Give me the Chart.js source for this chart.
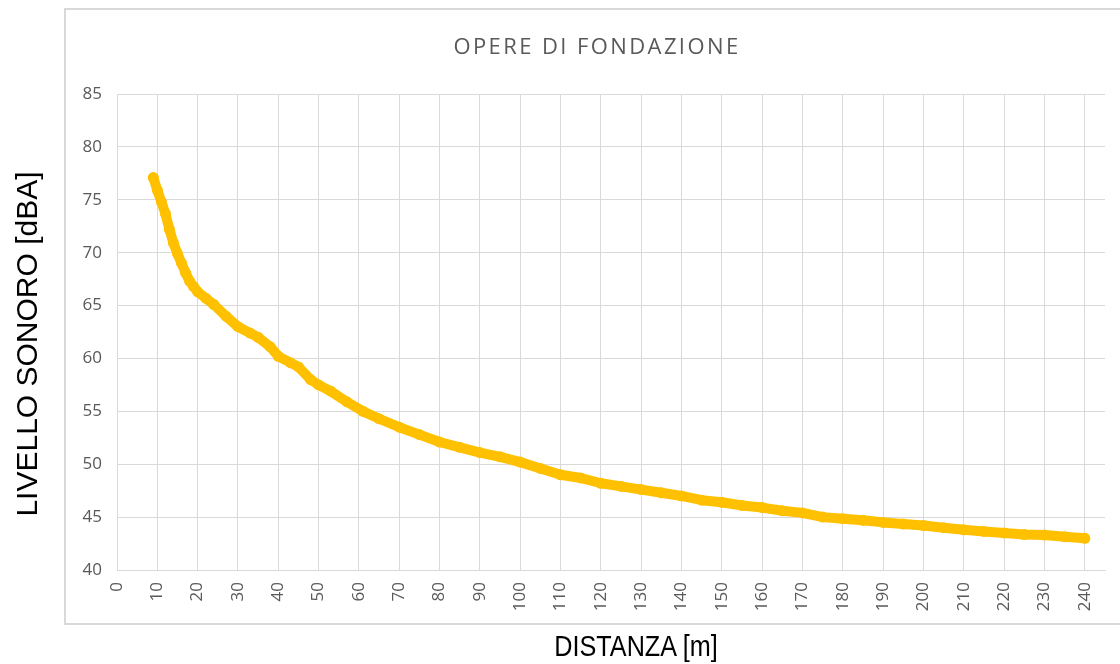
<!DOCTYPE html>
<html>
<head>
<meta charset="utf-8">
<script src="https://cdn.jsdelivr.net/npm/chart.js@4.4.1/dist/chart.umd.min.js"></script>
<style>
  html, body { margin: 0; padding: 0; background: #ffffff; width: 1120px; height: 664px; overflow: hidden; }
  #box { position: absolute; left: 64px; top: 8px; width: 1070px; height: 613px; border: 2px solid #d9d9d9; }
  #c { position: absolute; left: 0; top: 0; }
  #title { position: absolute; left: 0; top: 34px; width: 1194px; text-align: center; font-family: "Open Sans", sans-serif; font-size: 22px; line-height: 22px; letter-spacing: 2.4px; color: #595959; white-space: nowrap; }
  #ytitle { position: absolute; left: -173px; top: 329px; width: 400px; height: 30px; line-height: 30px; text-align: center; font-family: "Liberation Sans", Arial, sans-serif; font-size: 30px; color: #000; transform: rotate(-90deg); white-space: nowrap; }
  #xtitle { position: absolute; left: 436px; top: 631px; width: 400px; height: 30px; line-height: 30px; text-align: center; font-family: "Liberation Sans", Arial, sans-serif; font-size: 30px; color: #000; transform: scaleX(0.84); white-space: nowrap; }
</style>
</head>
<body>
<div id="box"></div>
<canvas id="c" width="1120" height="664"></canvas>
<div id="title">OPERE DI FONDAZIONE</div>
<div id="ytitle">LIVELLO SONORO [dBA]</div>
<div id="xtitle">DISTANZA [m]</div>
<script>
const chartTitle = "OPERE DI FONDAZIONE";
const xAxisTitle = "DISTANZA [m]";
const yAxisTitle = "LIVELLO SONORO [dBA]";

const distances = [9, 10, 11, 12, 13, 14, 15, 16, 17, 18, 19, 20, 22, 24, 27, 30, 33, 35, 38, 40, 43, 45, 48, 50, 53, 57, 61, 65, 70, 75, 80, 85, 90, 95, 100, 105, 110, 115, 120, 125, 130, 135, 140, 145, 150, 155, 160, 165, 170, 175, 180, 185, 190, 195, 200, 205, 210, 215, 220, 225, 230, 235, 240];
const levels = [77.1, 75.9, 74.8, 73.7, 72.2, 70.9, 69.9, 69.0, 68.1, 67.3, 66.8, 66.3, 65.7, 65.1, 64.0, 63.0, 62.4, 62.0, 61.1, 60.2, 59.6, 59.2, 58.0, 57.5, 56.9, 55.9, 55.0, 54.3, 53.5, 52.8, 52.1, 51.6, 51.1, 50.7, 50.2, 49.6, 49.0, 48.7, 48.2, 47.9, 47.6, 47.3, 47.0, 46.6, 46.4, 46.1, 45.9, 45.6, 45.4, 45.0, 44.85, 44.7, 44.5, 44.35, 44.2, 44.0, 43.8, 43.65, 43.5, 43.35, 43.3, 43.15, 43.0];

const xTicks = [0, 10, 20, 30, 40, 50, 60, 70, 80, 90, 100, 110, 120, 130, 140, 150, 160, 170, 180, 190, 200, 210, 220, 230, 240];
const yTicks = [40, 45, 50, 55, 60, 65, 70, 75, 80, 85];

const gridColor = '#d9d9d9';
const tickColor = '#595959';
const lineColor = '#FFC000';

new Chart(document.getElementById('c'), {
  type: 'line',
  data: {
    datasets: [{
      label: chartTitle,
      data: distances.map((d, i) => ({ x: d, y: levels[i] })),
      borderColor: lineColor,
      backgroundColor: lineColor,
      borderWidth: 10,
      borderJoinStyle: 'round',
      borderCapStyle: 'round',
      pointRadius: 5.5,
      pointBorderWidth: 0,
      pointBackgroundColor: lineColor,
      tension: 0,
      fill: false
    }]
  },
  options: {
    responsive: false,
    animation: false,
    devicePixelRatio: 1,
    layout: { autoPadding: false, padding: { left: 65, top: 94, right: 15, bottom: 0 } },
    plugins: { legend: { display: false }, tooltip: { enabled: false }, title: { display: false } },
    scales: {
      x: {
        type: 'linear',
        min: 0,
        max: 245,
        afterBuildTicks: (s) => { s.ticks = xTicks.map(v => ({ value: v })); },
        afterFit: (s) => { s.height = 94; },
        grid: { color: gridColor, lineWidth: 1, drawTicks: false },
        border: { color: gridColor, width: 1 },
        ticks: {
          color: tickColor,
          font: { family: 'Open Sans', size: 17 },
          minRotation: 90,
          maxRotation: 90,
          padding: 12,
          autoSkip: false
        },
        title: { display: false, text: xAxisTitle }
      },
      y: {
        min: 40,
        max: 85,
        afterBuildTicks: (s) => { s.ticks = yTicks.map(v => ({ value: v })); },
        afterFit: (s) => { s.width = 52; },
        grid: { color: gridColor, lineWidth: 1, drawTicks: false },
        border: { color: gridColor, width: 1 },
        ticks: {
          color: tickColor,
          font: { family: 'Open Sans', size: 17 },
          padding: 15
        },
        title: { display: false, text: yAxisTitle }
      }
    }
  }
});
</script>
</body>
</html>
